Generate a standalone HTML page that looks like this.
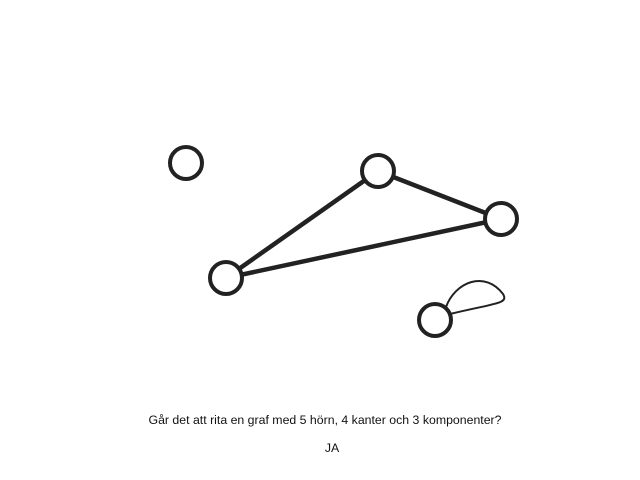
<!DOCTYPE html>
<html><head><meta charset="utf-8"><style>
body{margin:0;background:#fff;width:640px;height:480px;overflow:hidden}
svg{display:block}
text{font-family:"Liberation Sans",sans-serif;font-size:12.3px;fill:#111}
</style></head><body>
<svg id="g" width="640" height="480"></svg>
<script>
const nodeX=[186,378,501,226,435];
const nodeY=[163,171,219,278,320];
const edgeFrom=[1,1,2];
const edgeTo=[2,3,3];
const NS="http://www.w3.org/2000/svg";
const svg=document.getElementById('g');
function mk(t,a){const e=document.createElementNS(NS,t);for(const k in a)e.setAttribute(k,a[k]);svg.appendChild(e);return e;}
for(let i=0;i<edgeFrom.length;i++){
 const a=edgeFrom[i],b=edgeTo[i];
 const l=mk('line',{x1:nodeX[a],y1:nodeY[a],x2:nodeX[b],y2:nodeY[b],stroke:'#222','stroke-width':4.5});
 
 
}
const lx=nodeX[4],ly=nodeY[4];
const loop=mk('path',{d:`M${lx+11} ${ly-13} C${lx+20} ${ly-38} ${lx+50} ${ly-50} ${lx+68} ${ly-26} C${lx+74} ${ly-16} ${lx+60} ${ly-17} ${lx+15} ${ly-6}`,fill:'none',stroke:'#222','stroke-width':2});


for(let i=0;i<nodeX.length;i++){
 const c=mk('circle',{cx:nodeX[i],cy:nodeY[i],r:16,fill:'#fff',stroke:'#222','stroke-width':4});
 
 
}
const q=mk('text',{x:325,y:424,'text-anchor':'middle',textLength:353,lengthAdjust:'spacingAndGlyphs'});q.textContent='Går det att rita en graf med 5 hörn, 4 kanter och 3 komponenter?';


const a=mk('text',{x:332,y:452,'text-anchor':'middle'});a.textContent='JA';


</script>
</body></html>
